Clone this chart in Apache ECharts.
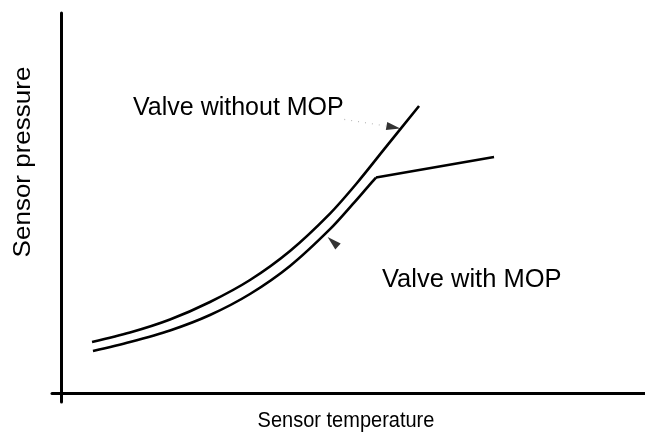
<!DOCTYPE html>
<html>
<head>
<meta charset="utf-8">
<script src="https://cdn.jsdelivr.net/npm/echarts@6/dist/echarts.min.js"></script>
<style>
  html, body { margin: 0; padding: 0; background: #fff; }
  #chart { width: 645px; height: 434px; }
</style>
</head>
<body>
<div id="chart"></div>
<script>
// Sensor pressure vs sensor temperature (arbitrary units)
const withoutMop = [
  [5.17, 8.5], [11.5, 10.08], [18.17, 12.25], [24.83, 15.17], [31.5, 18.83],
  [38.17, 23.67], [44.83, 29.9], [49.33, 35.0], [54.0, 40.8], [59.67, 47.83]
];
const withMop = [
  [5.33, 7.0], [11.5, 8.5], [18.17, 10.42], [24.83, 13.0], [31.5, 16.5],
  [38.17, 21.17], [44.83, 27.3], [49.0, 31.9], [51.17, 34.4], [52.5, 35.9],
  [72.17, 39.33]
];
// index of the point where the MOP limit takes over
const mopKnee = 9;

// annotation pointers: [x, y, rotation]
const pointers = [
  [55.4, 44.3, -100],
  [45.3, 25.2, 48]
];
const leader = [[47.2, 45.6], [54.2, 44.5]];

const xName = 'Sensor temperature';
const yName = 'Sensor pressure';
const labelWithout = 'Valve without MOP';
const labelWith = 'Valve with MOP';

const FONT = 'Liberation Sans, Arial, sans-serif';
const chart = echarts.init(document.getElementById('chart'));

const curveStyle = { color: '#000', width: 2.6 };

chart.setOption({
  animation: false,
  grid: { left: 52, right: 0, top: 13, bottom: 32 },
  xAxis: {
    type: 'value', min: -1.5, max: 97.33,
    axisLine: { show: true, onZero: true, lineStyle: { color: '#000', width: 3 } },
    axisTick: { show: false }, axisLabel: { show: false }, splitLine: { show: false }
  },
  yAxis: {
    type: 'value', min: -1.5, max: 63.33,
    axisLine: { show: true, onZero: true, lineStyle: { color: '#000', width: 3 } },
    axisTick: { show: false }, axisLabel: { show: false }, splitLine: { show: false }
  },
  series: [
    {
      type: 'line', data: withoutMop, smooth: 0.3, symbol: 'none',
      lineStyle: curveStyle
    },
    {
      type: 'line', data: withMop.slice(0, mopKnee + 1), smooth: 0.3, symbol: 'none',
      lineStyle: curveStyle
    },
    {
      type: 'line', data: withMop.slice(mopKnee), symbol: 'none',
      lineStyle: curveStyle
    },
    {
      type: 'line', data: leader, symbol: 'none',
      lineStyle: { color: '#bbb', width: 1.2, type: [1, 6] }
    },
    {
      type: 'scatter',
      data: pointers.map(p => ({ value: [p[0], p[1]], symbolRotate: p[2] })),
      symbol: 'triangle', symbolSize: [8, 14],
      itemStyle: { color: '#000' }
    }
  ],
  graphic: [
    {
      type: 'text', x: 346, y: 421, scaleY: 1.12,
      style: { text: xName, font: '20px ' + FONT, fill: '#000', align: 'center', verticalAlign: 'middle' }
    },
    {
      type: 'text', x: 23, y: 162, rotation: Math.PI / 2, scaleY: 0.92,
      style: { text: yName, font: '26px ' + FONT, fill: '#000', align: 'center', verticalAlign: 'middle' }
    },
    {
      type: 'text', x: 133, y: 108,
      style: { text: labelWithout, font: '25px ' + FONT, fill: '#000', align: 'left', verticalAlign: 'middle' }
    },
    {
      type: 'text', x: 382, y: 280,
      style: { text: labelWith, font: '25.5px ' + FONT, fill: '#000', align: 'left', verticalAlign: 'middle' }
    }
  ]
});
</script>
</body>
</html>
